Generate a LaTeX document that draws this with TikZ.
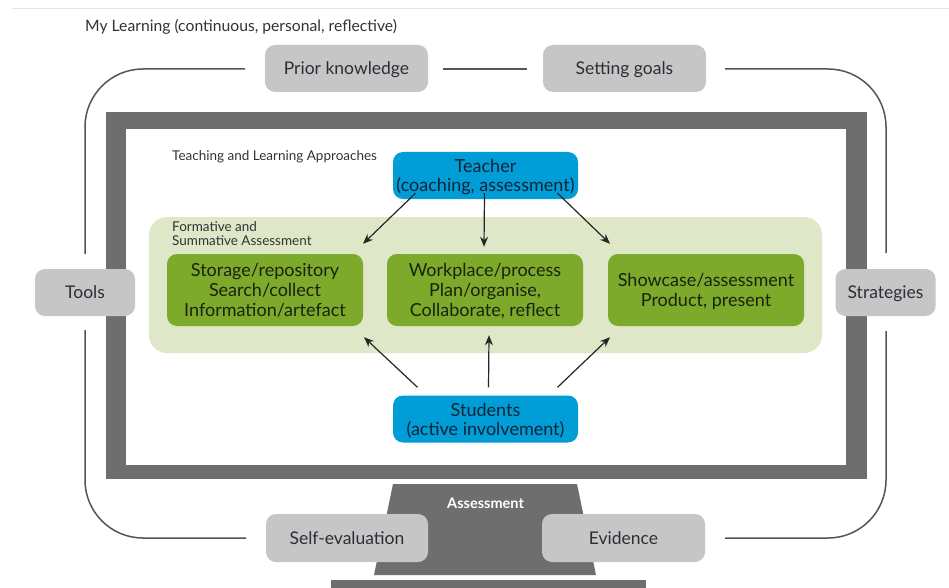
\documentclass[tikz,border=0pt]{standalone}
\usepackage{fontspec}
\setmainfont{Lato}
\usetikzlibrary{arrows.meta}
\definecolor{framegrey}{RGB}{110,110,110}
\definecolor{boxgrey}{RGB}{198,198,198}
\definecolor{boxtext}{RGB}{45,45,55}
\definecolor{tblue}{RGB}{0,157,214}
\definecolor{bluetext}{RGB}{15,35,55}
\definecolor{lgreen}{RGB}{222,231,199}
\definecolor{dgreen}{RGB}{125,170,42}
\definecolor{greentext}{RGB}{25,35,15}
\definecolor{loopgrey}{RGB}{85,85,85}
\definecolor{faint}{RGB}{228,228,228}
\begin{document}
\begin{tikzpicture}[x=1pt,y=-1pt,
  greybox/.style={fill=boxgrey,draw=none,rounded corners=10pt,text=boxtext,
    font=\fontsize{17.5}{20}\selectfont,inner sep=0pt,text depth=0pt},
  bluebox/.style={fill=tblue,draw=none,rounded corners=10pt,text=bluetext,
    font=\fontsize{18}{19}\selectfont,align=center,inner sep=0pt,
    minimum width=185pt,minimum height=47pt,text depth=0pt},
  greenbox/.style={fill=dgreen,draw=none,rounded corners=10pt,text=greentext,
    font=\fontsize{18}{20}\selectfont,align=center,inner sep=0pt,
    minimum width=196pt,minimum height=72pt,text depth=0pt},
  loopline/.style={draw=loopgrey,line width=1.5pt,rounded corners=58pt},
  arr/.style={draw=black!85,line width=1.2pt,-{Stealth[length=10pt,width=8pt]}},
  small/.style={text=black!80,font=\fontsize{13.5}{14}\selectfont,align=left,inner sep=0pt}
]
\useasboundingbox (0,0) rectangle (949,588);
\fill[white] (0,0) rectangle (949,588);
\draw[faint,line width=1pt] (12,9) -- (949,9);

\node[small,anchor=west,font=\fontsize{15.7}{17}\selectfont] (title) at (85,26.5) {My Learning (continuous, personal, reflective)};

% loop line
\coordinate (tl) at (245,69);
\coordinate (tlv) at (85,254);
\coordinate (tm1) at (443,69);
\coordinate (tm2) at (527,69);
\coordinate (tr) at (725,69);
\coordinate (trv) at (886,253);
\coordinate (bl) at (246,538);
\coordinate (blv) at (85,330);
\coordinate (br) at (725,538);
\coordinate (brv) at (886,331);
\draw[loopline] (tl) -| (tlv);
\draw[loopline] (tm1) -- (tm2);
\draw[loopline] (tr) -| (trv);
\draw[loopline] (bl) -| (blv);
\draw[loopline] (br) -| (brv);

% monitor frame
\fill[framegrey] (106,112) rectangle (867,479);
\fill[white] (126,129) rectangle (846,465);
\fill[framegrey] (393,484) -- (577,484) -- (596,575) -- (374,575) -- cycle;
\fill[framegrey] (331,580) rectangle (646,592);
\node[text=white,font=\fontsize{14.5}{15}\selectfont\bfseries,inner sep=0pt] (assess) at (485.5,503) {Assessment};

% grey boxes
\node[greybox,minimum width=163pt,minimum height=47pt] (prior) at (346.5,68.5) {Prior knowledge};
\node[greybox,minimum width=163pt,minimum height=47pt] (goals) at (624.5,68.5) {Setting goals};
\node[greybox,minimum width=100pt,minimum height=47pt] (tools) at (85,292.5) {Tools};
\node[greybox,minimum width=100pt,minimum height=47pt] (strat) at (885.5,292.5) {Strategies};
\node[greybox,minimum width=162pt,minimum height=48pt] (self) at (347,538) {Self-evaluation};
\node[greybox,minimum width=163pt,minimum height=48pt] (evid) at (623.5,538) {Evidence};

% inner content
\node[small,anchor=west] (tla) at (172,157) {Teaching and Learning Approaches};
\fill[lgreen,rounded corners=18pt] (149,217) rectangle (822,353);
\node[small,anchor=north west] (fsa) at (172,221) {Formative and\\Summative Assessment};

\node[bluebox] (teacher) at (485.5,175.5) {Teacher\\(coaching, assessment)};
\node[bluebox] (students) at (485.5,419) {Students\\(active involvement)};

\node[greenbox] (storage) at (265,290) {Storage/repository\\Search/collect\\Information/artefact};
\node[greenbox] (work) at (485,290) {Workplace/process\\Plan/organise,\\Collaborate, reflect};
\node[greenbox] (show) at (706,290) {Showcase/assessment\\Product, present};

% arrows
\draw[arr] ([xshift=-70pt,yshift=6pt]teacher.south) -- ([xshift=98pt,yshift=10pt]storage.north);
\draw[arr] ([xshift=-1pt,yshift=6pt]teacher.south) -- ([xshift=-1pt,yshift=7pt]work.north);
\draw[arr] ([xshift=72pt,yshift=6pt]teacher.south) -- ([xshift=-96pt,yshift=10pt]show.north);
\draw[arr] ([xshift=-68pt,yshift=8pt]students.north) -- ([xshift=99pt,yshift=-11pt]storage.south);
\draw[arr] ([xshift=3pt,yshift=8pt]students.north) -- ([xshift=4pt,yshift=-9pt]work.south);
\draw[arr] ([xshift=72pt,yshift=8pt]students.north) -- ([xshift=-96pt,yshift=-11pt]show.south);
\end{tikzpicture}
\end{document}
